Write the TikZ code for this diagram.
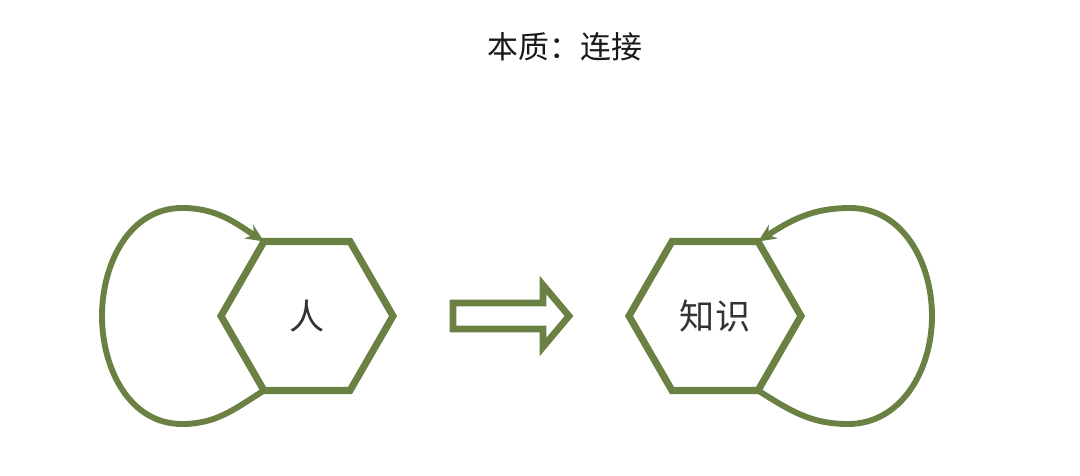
\documentclass[tikz,border=0pt]{standalone}
\usepackage{fontspec}
\setmainfont{Noto Sans CJK SC}
\usetikzlibrary{shapes.geometric}
\usetikzlibrary{arrows.meta}
\definecolor{hexgreen}{RGB}{106,129,67}
\definecolor{labelgray}{RGB}{51,51,51}
\begin{document}
\begin{tikzpicture}[x=0.025cm,y=0.025cm,
  hexnode/.style={regular polygon,regular polygon sides=6,draw=hexgreen,line width=5pt,
    minimum size=4.3cm,inner sep=0pt,outer sep=0pt,text=labelgray,font=\fontsize{25}{30}\selectfont},
  loopline/.style={draw=hexgreen,line width=4.2pt,-{Stealth[length=4.5mm,width=4mm]}},
  bigarrow/.style={draw=hexgreen,line width=4.8pt,line join=miter}]
\useasboundingbox (0,0) rectangle (1080,475);
\node[font=\fontsize{22}{26}\selectfont,text=black!90] (title) at (565,428) {本质：连接};

\node[hexnode] (person) at (307,159) {人};
\node[hexnode] (knowledge) at (715,159) {知识};

% left loop
\coordinate (lb) at (182,51);
\coordinate (lw) at (102,159);
\coordinate (lt) at (182,267);
\draw[loopline] (person.corner 4) to[out=212,in=0] (lb) to[out=180,in=270] (lw)
  to[out=90,in=180] (lt) to[out=0,in=147] (person.corner 2);

% right loop
\coordinate (rb) at (848,51);
\coordinate (re) at (932,159);
\coordinate (rt) at (850,267);
\draw[loopline] (knowledge.corner 5) to[out=-32,in=180] (rb) to[out=0,in=270] (re)
  to[out=90,in=0] (rt) to[out=180,in=33] (knowledge.corner 1);

\draw[bigarrow] (453,172) -- (543,172) -- (543,190) -- (569,159) -- (543,128) -- (543,146) -- (453,146) -- cycle;

\end{tikzpicture}
\end{document}
